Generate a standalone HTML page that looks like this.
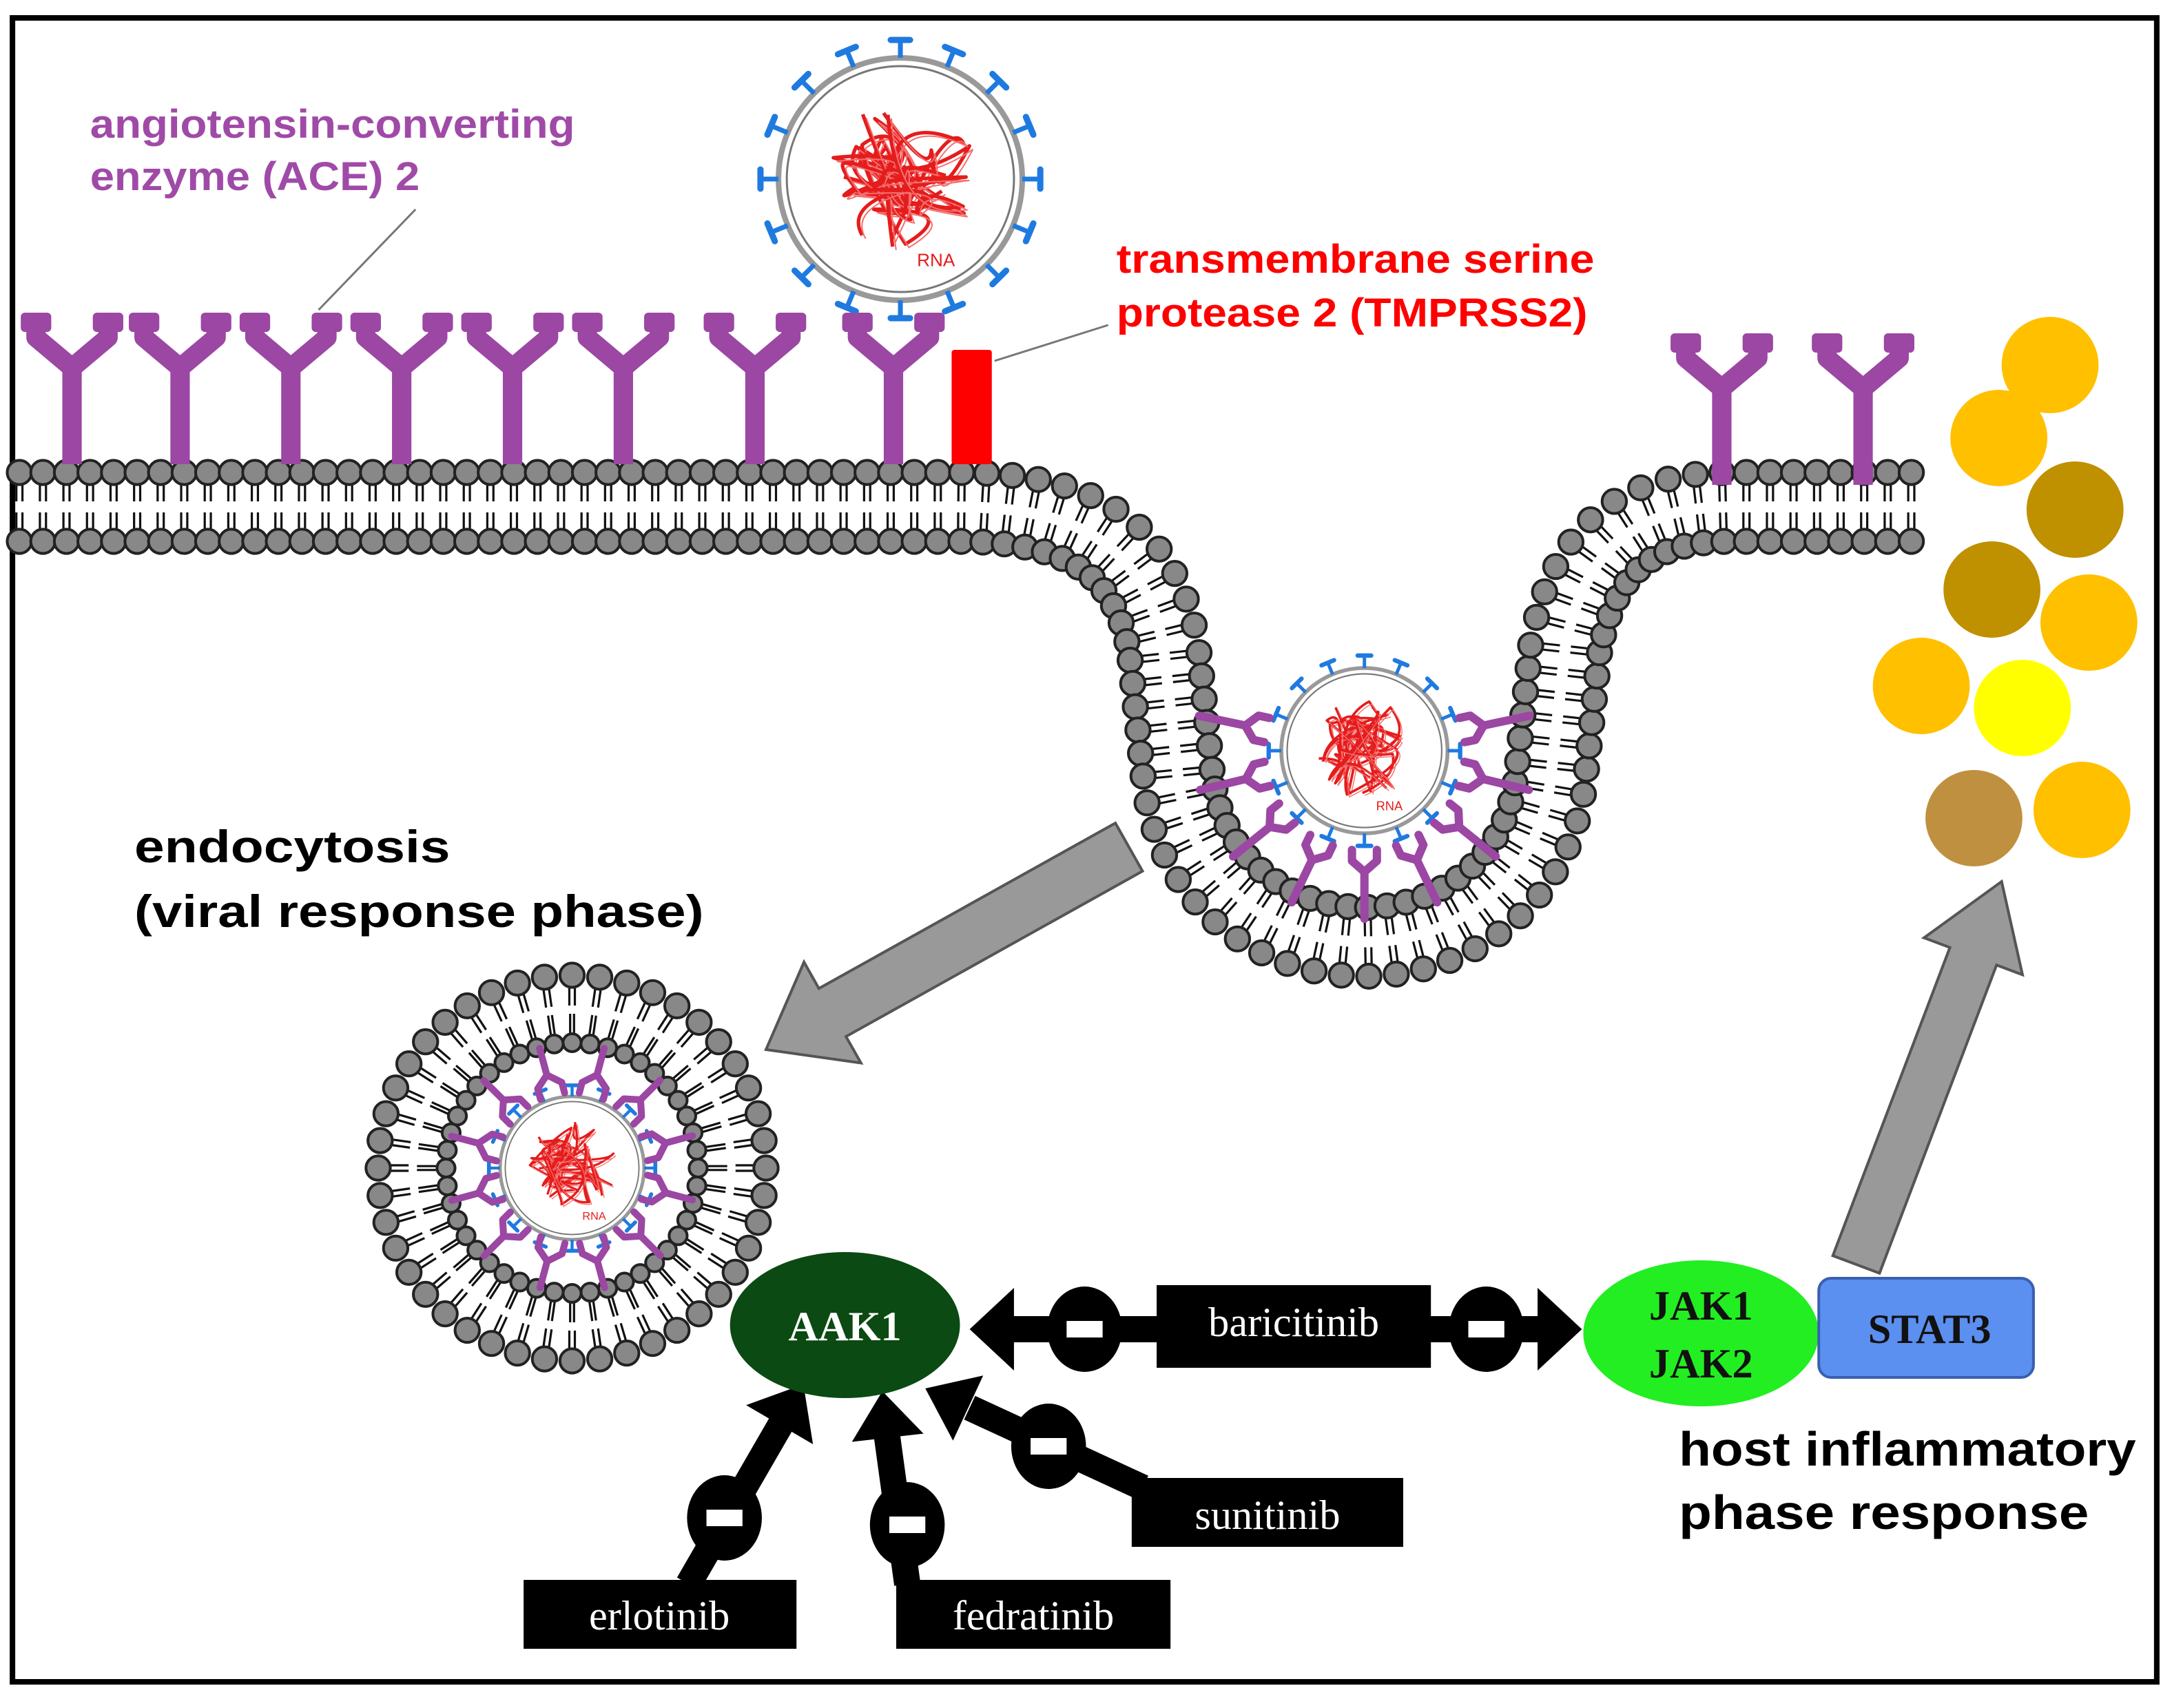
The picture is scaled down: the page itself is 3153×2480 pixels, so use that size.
<!DOCTYPE html>
<html><head><meta charset="utf-8">
<style>
html,body{margin:0;padding:0;background:#fff;}
svg{display:block;}
.sans{font-family:"Liberation Sans",sans-serif;font-weight:bold;}
.serif{font-family:"Liberation Serif",serif;}
</style></head>
<body>
<svg id="s" width="3153" height="2480" viewBox="0 0 1568 1240" preserveAspectRatio="none" xmlns="http://www.w3.org/2000/svg">
<rect x="0" y="0" width="1568" height="1240" fill="#fff"/>
<rect x="9" y="13" width="1548" height="1208" fill="none" stroke="#000" stroke-width="4"/>
<g id="mem"></g>
<g id="viruses"></g>
<g id="rec"></g>
<rect x="687" y="254" width="29" height="83" fill="#f00" rx="2"/>
<line x1="230" y1="225" x2="300" y2="152" stroke="#777" stroke-width="1.5"/>
<line x1="718" y1="262" x2="800" y2="236" stroke="#777" stroke-width="1.5"/>
<text class="sans" x="65" y="100" font-size="29" fill="#a04aa8" textLength="350" lengthAdjust="spacingAndGlyphs">angiotensin-converting</text>
<text class="sans" x="65" y="138" font-size="29" fill="#a04aa8" textLength="238" lengthAdjust="spacingAndGlyphs">enzyme (ACE) 2</text>
<text class="sans" x="806" y="198" font-size="29" fill="#f00" textLength="345" lengthAdjust="spacingAndGlyphs">transmembrane serine</text>
<text class="sans" x="806" y="237" font-size="29" fill="#f00" textLength="340" lengthAdjust="spacingAndGlyphs">protease 2 (TMPRSS2)</text>
<text class="sans" x="97" y="626" font-size="33" fill="#000" textLength="228" lengthAdjust="spacingAndGlyphs">endocytosis</text>
<text class="sans" x="97" y="673" font-size="33" fill="#000" textLength="411" lengthAdjust="spacingAndGlyphs">(viral response phase)</text>
<text class="sans" x="1212" y="1064" font-size="35" fill="#000" textLength="330" lengthAdjust="spacingAndGlyphs">host inflammatory</text>
<text class="sans" x="1212" y="1110" font-size="35" fill="#000" textLength="296" lengthAdjust="spacingAndGlyphs">phase response</text>
<g id="dots">
<circle cx="1480" cy="265" r="35" fill="#ffc000"/>
<circle cx="1443" cy="318" r="35" fill="#ffc000"/>
<circle cx="1498" cy="370" r="35" fill="#bf9000"/>
<circle cx="1438" cy="428" r="35" fill="#bf9000"/>
<circle cx="1508" cy="452" r="35" fill="#ffc000"/>
<circle cx="1387" cy="498" r="35" fill="#ffc000"/>
<circle cx="1460" cy="514" r="35" fill="#ffff00"/>
<circle cx="1425" cy="594" r="35" fill="#bf9040"/>
<circle cx="1503" cy="588" r="35" fill="#ffc000"/>
</g>
<g id="arrows"></g>
<ellipse cx="610" cy="962" rx="83" ry="53" fill="#0b4a12"/>
<text class="serif" x="610" y="973" font-size="30" font-weight="bold" fill="#fff" text-anchor="middle">AAK1</text>
<ellipse cx="1228" cy="968" rx="85" ry="53" fill="#22ee22"/>
<text class="serif" x="1228" y="958" font-size="30" font-weight="bold" fill="#111" text-anchor="middle">JAK1</text>
<text class="serif" x="1228" y="1000" font-size="30" font-weight="bold" fill="#111" text-anchor="middle">JAK2</text>
<rect x="1313" y="928" width="155" height="72" rx="9" fill="#5b8ff0" stroke="#3a5fb0" stroke-width="2"/>
<text class="serif" x="1393" y="975" font-size="30" font-weight="bold" fill="#111" text-anchor="middle">STAT3</text>
<g id="boxes">
<rect x="835" y="933" width="198" height="60" fill="#000"/>
<text class="serif" x="934" y="970" font-size="30" fill="#fff" text-anchor="middle">baricitinib</text>
<rect x="817" y="1073" width="196" height="50" fill="#000"/>
<text class="serif" x="915" y="1110" font-size="30" fill="#fff" text-anchor="middle">sunitinib</text>
<rect x="378" y="1147" width="197" height="50" fill="#000"/>
<text class="serif" x="476" y="1183" font-size="30" fill="#fff" text-anchor="middle">erlotinib</text>
<rect x="647" y="1147" width="198" height="50" fill="#000"/>
<text class="serif" x="746" y="1183" font-size="30" fill="#fff" text-anchor="middle">fedratinib</text>
</g>
</svg>
<script>
(function(){
var NS="http://www.w3.org/2000/svg";
function el(tag,attrs,parent){var e=document.createElementNS(NS,tag);for(var k in attrs)e.setAttribute(k,attrs[k]);(parent||document.getElementById('s')).appendChild(e);return e;}
var mem=document.getElementById('mem');
var d="M10,368 L690,368 C770,368 825,390 840,470 L850,560 C865,725 1105,725 1120,560 L1130,470 C1145,390 1190,368 1250,368 L1390,368";
var p=el('path',{d:d,fill:'none',stroke:'none'},mem);
var L=p.getTotalLength();
var heads=[],tails=[];
function addUnit(x,y,nx,ny,rOut,rIn){
  var tx=-ny,ty=nx;
  [-2.2,2.2].forEach(function(o){
    tails.push([x+nx*17+tx*o,y+ny*17+ty*o,x+nx*4+tx*o,y+ny*4+ty*o]);
    tails.push([x-nx*17+tx*o,y-ny*17+ty*o,x-nx*4+tx*o,y-ny*4+ty*o]);
  });
  heads.push([x+nx*25,y+ny*25,rOut]);
  heads.push([x-nx*25,y-ny*25,rIn]);
}
for(var s=4;s<L;s+=17){
  var a=p.getPointAtLength(s),b=p.getPointAtLength(Math.min(L,s+1)),c=p.getPointAtLength(Math.max(0,s-1));
  var dx=b.x-c.x,dy=b.y-c.y,n=Math.hypot(dx,dy)||1;
  var nx=dy/n,ny=-dx/n;
  addUnit(a.x,a.y,nx,ny,8.8,8.8);
}
var vc=[413,848],vr=115,N=Math.round(2*Math.PI*vr/16.5);
for(var i=0;i<N;i++){var t=i/N*2*Math.PI;var nx=Math.cos(t),ny=Math.sin(t);
  [-2,2].forEach(function(o){var tx=-ny,ty=nx;
  tails.push([vc[0]+nx*(vr+17)+tx*o,vc[1]+ny*(vr+17)+ty*o,vc[0]+nx*(vr+3)+tx*o,vc[1]+ny*(vr+3)+ty*o]);
  tails.push([vc[0]+nx*(vr-17)+tx*o*0.7,vc[1]+ny*(vr-17)+ty*o*0.7,vc[0]+nx*(vr-3)+tx*o*0.7,vc[1]+ny*(vr-3)+ty*o*0.7]);});
  heads.push([vc[0]+nx*(vr+25),vc[1]+ny*(vr+25),8.8]);
  heads.push([vc[0]+nx*(vr-24),vc[1]+ny*(vr-24),6.5]);
}
var tg=el('g',{stroke:'#111','stroke-width':1.6},mem);
tails.forEach(function(t){el('line',{x1:t[0],y1:t[1],x2:t[2],y2:t[3]},tg);});
var hg=el('g',{fill:'#888',stroke:'#222','stroke-width':2},mem);
heads.forEach(function(h){el('circle',{cx:h[0],cy:h[1],r:h[2]},hg);});

var rec=document.getElementById('rec');
function bigY(x,base){
  el('path',{d:'M'+x+','+base+' L'+x+','+(base-70)+' M'+(x-26)+','+(base-104)+' L'+(x-26)+','+(base-92)+' L'+x+','+(base-70)+' L'+(x+26)+','+(base-92)+' L'+(x+26)+','+(base-104),fill:'none',stroke:'#9b47a3','stroke-width':14,'stroke-linejoin':'round'},rec);
  el('rect',{x:x-37,y:base-110,width:22,height:14,rx:3,fill:'#9b47a3'},rec);
  el('rect',{x:x+15,y:base-110,width:22,height:14,rx:3,fill:'#9b47a3'},rec);
}
[52,130,210,290,370,450,545,645].forEach(function(x){bigY(x,337);});
[1243,1345].forEach(function(x){bigY(x,352);});
function smallY(cx,cy,ang,r1,r2,w){
  var ux=Math.cos(ang),uy=Math.sin(ang),vx=-uy,vy=ux;
  var bx=cx+ux*r1,by=cy+uy*r1,jx=cx+ux*r2,jy=cy+uy*r2;
  var g=el('g',{stroke:'#9b47a3','stroke-width':w,fill:'none','stroke-linecap':'round','stroke-linejoin':'round'},rec);
  el('line',{x1:bx,y1:by,x2:jx,y2:jy},g);
  var a1x=jx-ux*8+vx*9,a1y=jy-uy*8+vy*9,a2x=jx-ux*8-vx*9,a2y=jy-uy*8-vy*9;
  el('path',{d:'M'+(a1x-ux*8)+','+(a1y-uy*8)+' L'+a1x+','+a1y+' L'+jx+','+jy+' L'+a2x+','+a2y+' L'+(a2x-ux*8)+','+(a2y-uy*8)},g);
}
for(var k=0;k<9;k++){var ang=(192-k*25.5)*Math.PI/180; smallY(985,545,ang,122,88,6);}
for(var k=0;k<12;k++){var ang=k/12*2*Math.PI+0.26;smallY(413,848,ang,90,70,5);}

var vg=document.getElementById('viruses');
function rnd(seed){return function(){seed=(seed*9301+49297)%233280;return seed/233280;};}
function virus(cx,cy,R,sc,seed){
  var g=el('g',{},vg);
  el('circle',{cx:cx,cy:cy,r:R,fill:'#fff',stroke:'#999','stroke-width':4*sc},g);
  el('circle',{cx:cx,cy:cy,r:R-6*sc,fill:'none',stroke:'#777','stroke-width':1.5*sc},g);
  var n=16;
  for(var i=0;i<n;i++){var t=i/n*2*Math.PI;var ux=Math.cos(t),uy=Math.sin(t);
    var x1=cx+ux*R,y1=cy+uy*R,x2=cx+ux*(R+13*sc),y2=cy+uy*(R+13*sc);
    el('line',{x1:x1,y1:y1,x2:x2,y2:y2,stroke:'#1f7ae0','stroke-width':3.5*sc},g);
    el('line',{x1:x2-uy*7*sc,y1:y2+ux*7*sc,x2:x2+uy*7*sc,y2:y2-ux*7*sc,stroke:'#1f7ae0','stroke-width':4.5*sc,'stroke-linecap':'round'},g);
  }
  var r=rnd(seed);
  for(var j=0;j<9;j++){
    var pts=[];var m=9;
    for(var q=0;q<m;q++){var aa=r()*6.283,rr=Math.sqrt(r())*R*0.62;pts.push([cx+Math.cos(aa)*rr,cy+Math.sin(aa)*rr-4*sc]);}
    var dd='M'+pts[0][0]+','+pts[0][1];
    for(var q=1;q<m-1;q+=2){dd+=' Q'+pts[q][0]+','+pts[q][1]+' '+pts[q+1][0]+','+pts[q+1][1];}
    el('path',{d:dd,fill:'none',stroke:'#e51c1c','stroke-width':2.6*sc,'stroke-linejoin':'round'},g);
    el('path',{d:dd,fill:'none',stroke:'#f47070','stroke-width':1*sc,transform:'translate('+2.5*sc+','+2.5*sc+')'},g);
  }
  var tx=el('text',{x:cx+12*sc,y:cy+R*0.72,'font-size':13*sc,fill:'#e51c1c','font-family':'Liberation Sans, sans-serif'},g);tx.textContent='RNA';
}
virus(650,130,88,1,7);
virus(985,545,60,0.7,11);
virus(413,848,52,0.62,23);

var ag=document.getElementById('arrows');
function grayArrow(x1,y1,x2,y2,sw,hw,hl){
  var dx=x2-x1,dy=y2-y1,n=Math.hypot(dx,dy),ux=dx/n,uy=dy/n,vx=-uy,vy=ux;
  var bx=x2-ux*hl,by=y2-uy*hl;
  var P=[[x1+vx*sw,y1+vy*sw],[bx+vx*sw,by+vy*sw],[bx+vx*hw,by+vy*hw],[x2,y2],[bx-vx*hw,by-vy*hw],[bx-vx*sw,by-vy*sw],[x1-vx*sw,y1-vy*sw]];
  el('polygon',{points:P.map(function(p){return p.join(',')}).join(' '),fill:'#999',stroke:'#555','stroke-width':2},ag);
}
grayArrow(815,615,553,762,20,42,55);
grayArrow(1340,918,1445,640,18,38,58);
function head(x1,y1,x2,y2,hw,hl){
  var dx=x2-x1,dy=y2-y1,n=Math.hypot(dx,dy),ux=dx/n,uy=dy/n,vx=-uy,vy=ux;
  var bx=x2-ux*hl,by=y2-uy*hl;
  el('polygon',{points:[[x2,y2],[bx+vx*hw,by+vy*hw],[bx-vx*hw,by-vy*hw]].map(function(p){return p.join(',')}).join(' '),fill:'#000'},ag);
}
function blackLine(x1,y1,x2,y2){el('line',{x1:x1,y1:y1,x2:x2,y2:y2,stroke:'#000','stroke-width':19},ag);}
function inhib(cx,cy){el('ellipse',{cx:cx,cy:cy,rx:27,ry:31,fill:'#000'},ag);el('rect',{x:cx-13,y:cy-6,width:26,height:12,fill:'#fff'},ag);}
blackLine(725,965,1118,965);
head(760,965,700,965,30,32);head(1100,965,1142,965,30,32);
inhib(783,965);inhib(1073,965);
blackLine(497,1150,566,1030);head(530,1090,580,1005,28,34);inhib(523,1102);
blackLine(655,1150,640,1040);head(645,1080,637,1010,26,34);inhib(655,1107);
blackLine(825,1080,700,1022);head(720,1032,668,1008,26,34);inhib(757,1050);
})();
</script>
</body></html>
